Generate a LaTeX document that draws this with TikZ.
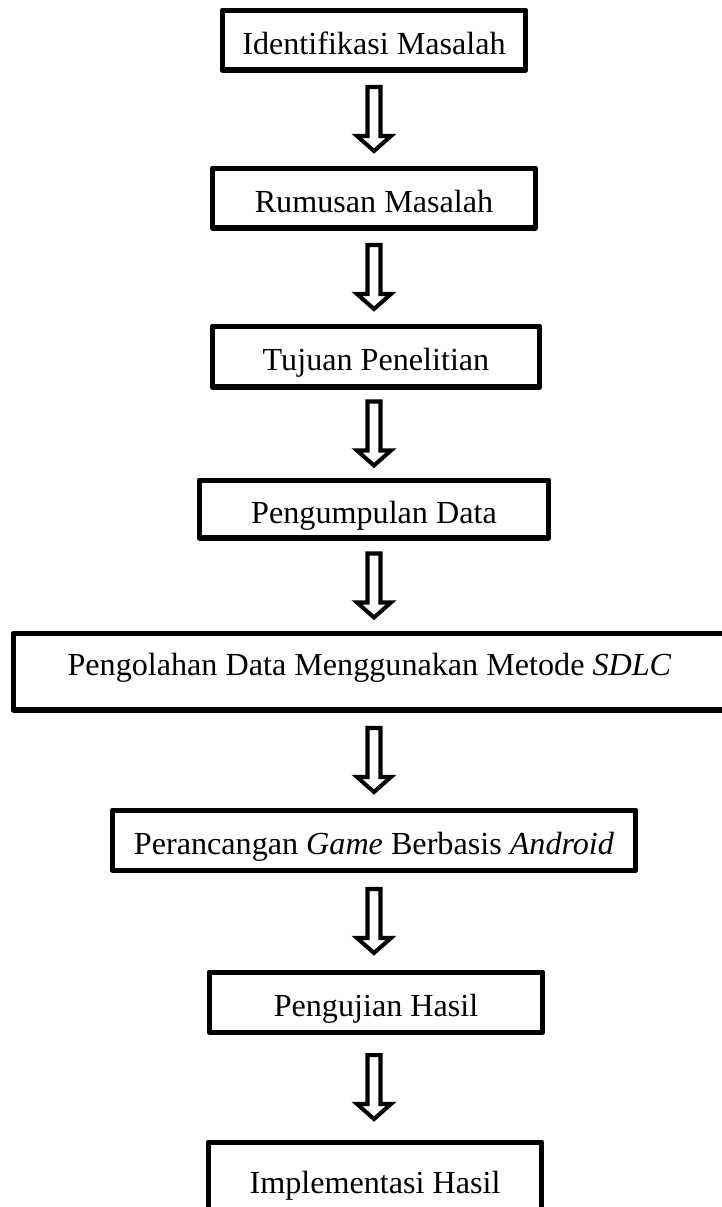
\documentclass[tikz,border=0pt]{standalone}
\usepackage{fontspec}
\setmainfont{Liberation Serif}
\usetikzlibrary{calc}

\begin{document}
\begin{tikzpicture}[x=0.02cm,y=-0.02cm,
  stepbox/.style={draw,line width=2.85pt,line join=round,inner sep=0pt,
    font=\fontsize{18.3}{22}\selectfont,text height=16pt,text depth=0pt,minimum height=1.2cm},
  downarrow/.style={draw,fill=white,line width=2.3pt,
    to path={let \p1=($(\tikztostart)!0.5!(\tikztotarget)$) in
      (\x1-3.7pt,\y1+18.21pt) -- (\x1+3.7pt,\y1+18.21pt) -- (\x1+3.7pt,\y1-9.67pt)
      -- (\x1+9.67pt,\y1-9.67pt) -- (\x1,\y1-18.21pt) -- (\x1-9.67pt,\y1-9.67pt)
      -- (\x1-3.7pt,\y1-9.67pt) -- cycle}}]
\useasboundingbox (0,0) rectangle (722,1207);
\node[stepbox,minimum width=6.08cm] (ident) at (374,40) {Identifikasi Masalah};
\node[stepbox,minimum width=6.46cm] (rumus) at (374,198) {Rumusan Masalah};
\node[stepbox,minimum width=6.54cm,minimum height=1.22cm] (tujuan) at (376,356.5) {Tujuan Penelitian};
\node[stepbox,minimum width=7.0cm,minimum height=1.16cm] (kumpul) at (374,509) {Pengumpulan Data};
\node[stepbox,minimum width=14.26cm,minimum height=1.54cm,text depth=12pt] (olah) at (369.5,671.5) {Pengolahan Data Menggunakan Metode \textit{SDLC}};
\node[stepbox,minimum width=10.48cm] (rancang) at (374,840) {Perancangan \textit{Game} Berbasis \textit{Android}};
\node[stepbox,minimum width=6.68cm] (uji) at (376,1002) {Pengujian Hasil};
\node[stepbox,minimum width=6.68cm,minimum height=1.48cm] (impl) at (375,1179) {Implementasi Hasil};
\draw[downarrow] (ident.south) to (ident.south |- rumus.north);
\draw[downarrow] (rumus.south) to (rumus.south |- tujuan.north);
\draw[downarrow] (tujuan.south -| kumpul) to (kumpul.north);
\draw[downarrow] (kumpul.south) to (kumpul.south |- olah.north);
\draw[downarrow] (rancang.north |- olah.south) to (rancang.north);
\draw[downarrow] (rancang.south) to (rancang.south |- uji.north);
\draw[downarrow] (uji.south -| rancang) to (rancang |- impl.north);
\end{tikzpicture}
\end{document}
